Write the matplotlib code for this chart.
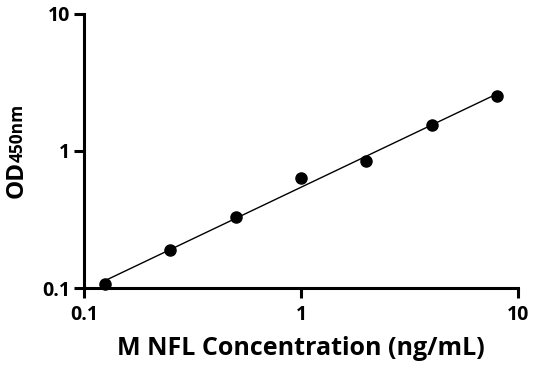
import numpy as np
import matplotlib.pyplot as plt

conc = [0.125, 0.25, 0.5, 1, 2, 4, 8]
od = [0.107, 0.189, 0.33, 0.63, 0.85, 1.55, 2.53]
x_ticks = [0.1, 1, 10]
y_ticks = [0.1, 1, 10]
tick_labels = ['0.1', '1', '10']

plt.rcParams['font.family'] = ['Open Sans', 'DejaVu Sans']
plt.rcParams['font.weight'] = 'bold'

fig = plt.figure(figsize=(5.36, 3.71), dpi=100)
ax = fig.add_axes([0.1567, 0.2237, 0.8097, 0.7386])

# log-log linear fit
k, b = np.polyfit(np.log10(conc), np.log10(od), 1)
xf = np.array([conc[0], conc[-1]])
ax.plot(xf, 10 ** (k * np.log10(xf) + b), color='black', lw=1.0)
ax.plot(conc, od, 'o', color='black', ms=8, clip_on=False)

ax.set_xscale('log')
ax.set_yscale('log')
ax.set_xlim(0.1, 10)
ax.set_ylim(0.1, 10)
ax.set_xticks(x_ticks)
ax.set_xticklabels(tick_labels, fontsize=14, fontweight='bold')
ax.set_yticks(y_ticks)
ax.set_yticklabels(tick_labels, fontsize=14, fontweight='bold')
ax.minorticks_off()

for s in ['top', 'right']:
    ax.spines[s].set_visible(False)
for s in ['left', 'bottom']:
    ax.spines[s].set_linewidth(2.2)
ax.tick_params(width=2.2, length=7)
ax.tick_params(axis='x', pad=5)
ax.tick_params(axis='y', pad=3)

ax.set_xlabel('M NFL Concentration (ng/mL)', fontsize=18, fontweight='bold', labelpad=8)

t1 = fig.text(0.043, 0.466, 'OD', rotation=90, rotation_mode='anchor',
              ha='left', va='baseline', fontsize=17.5, fontweight='bold')
fig.canvas.draw()
bb = t1.get_window_extent().transformed(fig.transFigure.inverted())
fig.text(0.043, bb.y1 - 0.004, '450nm', rotation=90, rotation_mode='anchor',
         ha='left', va='baseline', fontsize=12.5, fontweight='bold')

plt.savefig('out.png', dpi=100)
